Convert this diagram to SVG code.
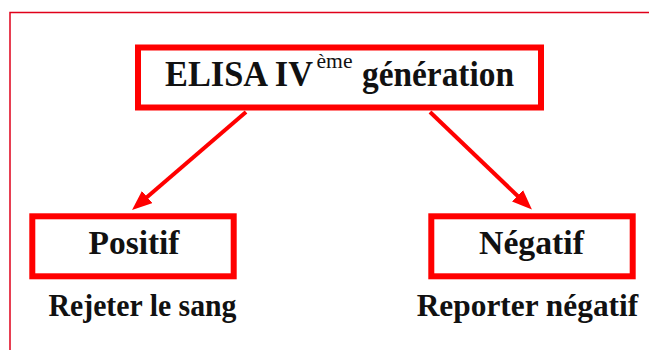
<svg xmlns="http://www.w3.org/2000/svg" width="649" height="350" viewBox="0 0 649 350">
  <defs>
    <marker id="ah" markerUnits="userSpaceOnUse" markerWidth="20" markerHeight="16" viewBox="0 0 20 16" refX="10" refY="8" orient="auto">
      <path d="M0,0 L20,8 L0,16 z" fill="#f00"/>
    </marker>
    <style>
      .box { fill: #fff; stroke: #f00; stroke-width: 6; }
      .lbl { font-family: "Liberation Serif", "Times New Roman", serif; font-weight: bold; fill: #111; }
      .sup { font-family: "Liberation Serif", "Times New Roman", serif; font-weight: normal; fill: #111; }
      .conn { stroke: #f00; stroke-width: 4; fill: none; }
    </style>
  </defs>
  <rect x="0" y="0" width="649" height="350" fill="#fff"/>
  <rect id="frame" x="10" y="12.5" width="700" height="400" fill="none" stroke="#e0001a" stroke-width="1.5"/>

  <g id="connectors">
    <line class="conn" x1="246" y1="112" x2="139.6" y2="203.5" marker-end="url(#ah)"/>
    <line class="conn" x1="430" y1="112" x2="524.7" y2="202.7" marker-end="url(#ah)"/>
  </g>

  <g id="elisa">
    <rect class="box" x="138" y="47.5" width="403" height="60"/>
    <text class="lbl" x="165" y="86" font-size="36" textLength="148" lengthAdjust="spacingAndGlyphs">ELISA IV</text>
    <text class="sup" x="316.5" y="68" font-size="21" textLength="36" lengthAdjust="spacingAndGlyphs">ème</text>
    <text class="lbl" x="362" y="86" font-size="36" textLength="152" lengthAdjust="spacingAndGlyphs">génération</text>
  </g>

  <g id="positif">
    <rect class="box" x="32.3" y="216.3" width="201.4" height="60"/>
    <text class="lbl" x="88.5" y="254" font-size="34" textLength="91" lengthAdjust="spacingAndGlyphs">Positif</text>
  </g>

  <g id="negatif">
    <rect class="box" x="431.3" y="216.3" width="201.4" height="60"/>
    <text class="lbl" x="479" y="254" font-size="34" textLength="105" lengthAdjust="spacingAndGlyphs">Négatif</text>
  </g>

  <text id="rejeter" class="lbl" x="48.5" y="315.5" font-size="31" textLength="188" lengthAdjust="spacingAndGlyphs">Rejeter le sang</text>
  <text id="reporter" class="lbl" x="416.7" y="315.5" font-size="31" textLength="221.5" lengthAdjust="spacingAndGlyphs">Reporter négatif</text>
</svg>
